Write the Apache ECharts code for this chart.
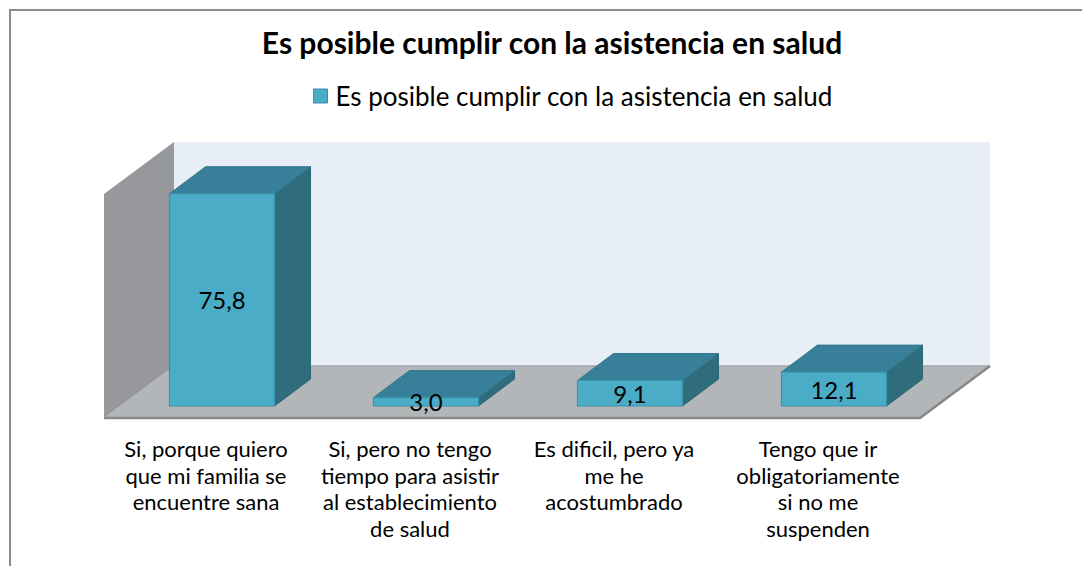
<!DOCTYPE html>
<html><head><meta charset="utf-8">
<script src="https://cdn.jsdelivr.net/npm/echarts@6/dist/echarts.min.js"></script>
<style>html,body{margin:0;padding:0;background:#fff}#c{width:1082px;height:566px}</style>
</head><body><div id="c"></div>
<script>
// ---- data ----
const titleText = 'Es posible cumplir con la asistencia en salud';
const seriesName = 'Es posible cumplir con la asistencia en salud';
const categories = [
  'Si, porque quiero\nque mi familia se\nencuentre sana',
  'Si, pero no tengo\ntiempo para asistir\nal establecimiento\nde salud',
  'Es dificil, pero ya\nme he\nacostumbrado',
  'Tengo que ir\nobligatoriamente\nsi no me\nsuspenden'
];
const values = [75.8, 3.0, 9.1, 12.1];
const yMin = 0, yMax = 80;

// ---- 3D look (styling) ----
const FONT = 'Lato';
const FRONT = [16, -12];      // bar front plane offset from floor front edge
const BAR_DEPTH = [36, -27];  // bar depth
const WALL_DEPTH = [70, -52]; // back wall offset
const BAR_RATIO = 0.515;

function fmt(v) { return v.toFixed(1).replace('.', ','); }

const chart = echarts.init(document.getElementById('c'), null, {renderer: 'svg'});

function renderWalls(params, api) {
  const cs = params.coordSys;
  const x = cs.x, y = cs.y, w = cs.width, h = cs.height;
  const dx = WALL_DEPTH[0], dy = WALL_DEPTH[1];
  return {
    type: 'group',
    children: [
      {type: 'polygon', shape: {points: [[x + dx, y + dy], [x + w + dx, y + dy], [x + w + dx, y + h + dy], [x + dx, y + h + dy]]},
        style: {fill: '#e8eef6'}},
      {type: 'polygon', shape: {points: [[x, y + h], [x + dx, y + h + dy], [x + w + dx, y + h + dy], [x + w, y + h]]},
        style: {fill: '#b3b6b9'}},
      {type: 'polyline', shape: {points: [[x + dx, y + h + dy], [x + w + dx, y + h + dy]]},
        style: {stroke: '#a3a6a9', lineWidth: 1.5, fill: null}},
      {type: 'polygon', shape: {points: [[x, y], [x + dx, y + dy], [x + dx, y + h + dy], [x, y + h]]},
        style: {fill: '#96989c'}},
      {type: 'polyline', shape: {points: [[x, y + h], [x + w, y + h], [x + w + dx, y + h + dy]]},
        style: {stroke: '#878787', lineWidth: 2.5, fill: null}}
    ]
  };
}

function renderBar(params, api) {
  const i = api.value(0), v = api.value(1);
  const top = api.coord([i, v]);
  const base = api.coord([i, 0]);
  const bw = api.size([1, 0])[0] * BAR_RATIO;
  const fx = top[0] + FRONT[0];
  const x0 = fx - bw / 2, x1 = fx + bw / 2;
  const yT = top[1] + FRONT[1], yB = base[1] + FRONT[1];
  const ddx = BAR_DEPTH[0], ddy = BAR_DEPTH[1];
  return {
    type: 'group',
    children: [
      {type: 'polygon', shape: {points: [[x1, yT], [x1 + ddx, yT + ddy], [x1 + ddx, yB + ddy], [x1, yB]]},
        style: {fill: '#2f6d7c', stroke: '#2c6776', lineWidth: 1}},
      {type: 'polygon', shape: {points: [[x0, yT], [x0 + ddx, yT + ddy], [x1 + ddx, yT + ddy], [x1, yT]]},
        style: {fill: '#38809a', stroke: '#32768c', lineWidth: 1}},
      {type: 'rect', shape: {x: x0, y: yT, width: bw, height: yB - yT},
        style: {fill: '#4aacc6', stroke: '#3c92aa', lineWidth: 1.2}},
      {type: 'text', x: fx, y: (yT + yB) / 2,
        style: {text: fmt(v), fill: '#000', font: '24px ' + FONT, align: 'center', verticalAlign: 'middle'}}
    ]
  };
}

chart.setOption({
  backgroundColor: '#fff',
  animation: false,
  title: {
    text: titleText, left: 552, top: 27, textAlign: 'center', padding: 0,
    textStyle: {fontFamily: FONT, fontWeight: 'bold', fontSize: 30, color: '#000'}
  },
  legend: {
    data: [{name: seriesName, itemStyle: {color: '#4aacc6', borderColor: '#3c8fa7', borderWidth: 1}}],
    left: 313, top: 81, padding: 0, icon: 'rect', itemWidth: 14, itemHeight: 14, itemGap: 8,
    textStyle: {fontFamily: FONT, fontSize: 26, color: '#000', lineHeight: 30, padding: [0, 0, 0, 3]}
  },
  graphic: [{type: 'rect', shape: {x: 10, y: 10, width: 1300, height: 1000},
    style: {fill: 'none', stroke: '#8c8c8c', lineWidth: 2}, z: 100}],
  grid: {left: 104, right: 162, top: 194, bottom: 148, containLabel: false},
  xAxis: {
    type: 'category', data: categories,
    axisLine: {show: false}, axisTick: {show: false}, splitLine: {show: false},
    axisLabel: {interval: 0, margin: 17, color: '#000', fontFamily: FONT, fontSize: 22, lineHeight: 26.7}
  },
  yAxis: {type: 'value', min: yMin, max: yMax, show: false},
  series: [
    {type: 'custom', name: '_walls', silent: true, renderItem: renderWalls, data: [[0, 0]], z: 1,
      encode: {x: 0, y: 1}},
    {type: 'custom', name: seriesName, renderItem: renderBar, z: 2,
      itemStyle: {color: '#4aacc6'},
      data: values.map((v, i) => [i, v]), encode: {x: 0, y: 1}}
  ]
});
</script>
</body></html>
